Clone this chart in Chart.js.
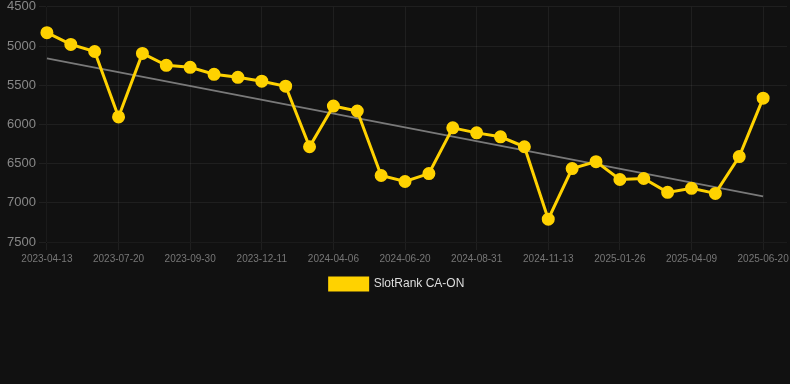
<!DOCTYPE html>
<html>
<head>
<meta charset="utf-8">
<script src="https://cdn.jsdelivr.net/npm/chart.js@4/dist/chart.umd.min.js"></script>
<style>
    html, body { margin: 0; padding: 0; background: #111111; }
    .wrap { position: relative; width: 790px; height: 300px; }
</style>
</head>
<body>
<div class="wrap"><canvas id="rank-chart"></canvas></div>
<script>
    "use strict";

    // Data
    var dates = ["2023-04-13", "2023-05-15", "2023-06-17", "2023-07-20", "2023-08-13", "2023-09-06",
        "2023-09-30", "2023-10-27", "2023-11-17", "2023-12-11", "2024-01-20", "2024-02-28",
        "2024-04-06", "2024-05-01", "2024-05-26", "2024-06-20", "2024-07-15", "2024-08-07",
        "2024-08-31", "2024-09-25", "2024-10-19", "2024-11-13", "2024-12-07", "2025-01-01",
        "2025-01-26", "2025-02-19", "2025-03-16", "2025-04-09", "2025-05-03", "2025-05-27",
        "2025-06-20", "2025-07-14"];
    var ranks = [4830, 4980, 5070, 5905, 5095, 5247, 5272, 5361, 5399, 5449, 5513, 6285,
        5766, 5829, 6652, 6728, 6627, 6044, 6108, 6158, 6285, 7209, 6563, 6475,
        6703, 6690, 6867, 6816, 6880, 6411, 5665, null];
    var trendStart = 5158;
    var trendEnd = 6918;
    var yTicks = [4500, 5000, 5500, 6000, 6500, 7000, 7500];

    var trend = dates.map(function () { return null; });
    trend[0] = trendStart;
    trend[30] = trendEnd;

    var shown = function (index) { return index % 3 === 0 && index <= 30; };

    // Rank Line Chart
    var ctx = document.getElementById("rank-chart").getContext("2d");
    var myChart = new Chart(ctx, {
        type: "line",
        data: {
            labels: dates,
            datasets: [{
                label: "SlotRank CA-ON",
                data: ranks,
                borderColor: "#FFD200",
                backgroundColor: "#FFD200",
                borderWidth: 3,
                pointRadius: 5,
                pointHoverRadius: 5,
                tension: 0
            },
            {
                label: "trend",
                data: trend,
                borderColor: "rgba(140, 140, 140, 0.85)",
                borderWidth: 2,
                pointRadius: 0,
                spanGaps: true
            }]
        },
        options: {
            responsive: true,
            maintainAspectRatio: false,
            animation: false,
            layout: { autoPadding: false, padding: { left: 4, right: 0, top: 0, bottom: 0 } },
            plugins: {
                legend: {
                    position: "bottom",
                    labels: {
                        color: "#dddddd",
                        boxWidth: 38,
                        boxHeight: 12,
                        font: { size: 12, family: "Liberation Sans, Arial, sans-serif" },
                        filter: function (item) { return item.datasetIndex === 0; }
                    }
                },
                tooltip: { enabled: false }
            },
            scales: {
                x: {
                    offset: false,
                    grid: {
                        color: function (c) {
                            return shown(c.index) ? "rgba(255, 255, 255, 0.06)" : "rgba(0, 0, 0, 0)";
                        }
                    },
                    ticks: {
                        color: "#777777",
                        autoSkip: false,
                        maxRotation: 0,
                        font: { size: 10, family: "Liberation Sans, Arial, sans-serif" },
                        callback: function (value, index) {
                            return shown(index) ? dates[index] : "";
                        }
                    }
                },
                y: {
                    reverse: true,
                    min: yTicks[0],
                    max: yTicks[yTicks.length - 1],
                    grid: { color: "rgba(255, 255, 255, 0.06)" },
                    afterBuildTicks: function (axis) {
                        axis.ticks = yTicks.map(function (v) { return { value: v }; });
                    },
                    afterFit: function (axis) {
                        axis.paddingTop = Math.max(0, axis.paddingTop - 4);
                    },
                    ticks: {
                        color: "#888888",
                        font: { size: 13, family: "Liberation Sans, Arial, sans-serif" },
                        callback: function (value) { return String(value); }
                    }
                }
            }
        }
    });
</script>
</body>
</html>
